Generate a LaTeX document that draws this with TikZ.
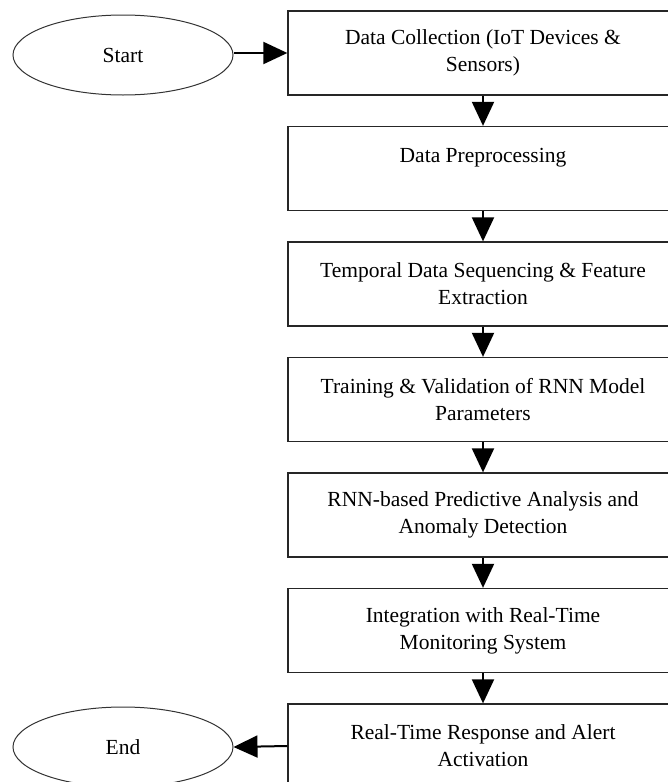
\documentclass[tikz,border=0pt]{standalone}
\usepackage{fontspec}
\setmainfont{Liberation Serif}
\usetikzlibrary{arrows.meta,shapes.geometric}
\begin{document}
\begin{tikzpicture}[x=1pt,y=-1pt,
  stepbox/.style={draw=black!85, line width=1.3pt, minimum width=390pt, minimum height=84pt,
    align=center, inner sep=0pt, font=\fontsize{21.5}{27}\selectfont, text=black},
  term/.style={draw=black!80, line width=1pt, ellipse, minimum width=220pt, minimum height=80pt,
    inner sep=0pt, font=\fontsize{21.5}{27}\selectfont, text=black},
  flow/.style={line width=2pt, black, -{Triangle[length=24pt,width=22pt]}}
]
\useasboundingbox (0,0) rectangle (668,782);
\node[term] (start) at (123,55) {Start};
\node[term] (end) at (123,747) {End};
\node[stepbox] (b1) at (483,53) {Data Collection (IoT Devices \&\\Sensors)};
\node[stepbox] (b2) at (483,168.5) {Data Preprocessing\\\mbox{}};
\node[stepbox] (b3) at (483,284) {Temporal Data Sequencing \& Feature\\Extraction};
\node[stepbox] (b4) at (483,399.5) {Training \& Validation of RNN Model\\Parameters};
\node[stepbox] (b5) at (483,515) {RNN-based Predictive Analysis and\\Anomaly Detection};
\node[stepbox] (b6) at (483,630.5) {Integration with Real-Time\\Monitoring System};
\node[stepbox] (b7) at (483,746) {Real-Time Response and Alert\\Activation};
\draw[flow] (start.east |- b1.west) -- (b1.west);
\draw[flow] (b1) -- (b2);
\draw[flow] (b2) -- (b3);
\draw[flow] (b3) -- (b4);
\draw[flow] (b4) -- (b5);
\draw[flow] (b5) -- (b6);
\draw[flow] (b6) -- (b7);
\draw[flow] (b7.west) -- (end.east);
\end{tikzpicture}
\end{document}
